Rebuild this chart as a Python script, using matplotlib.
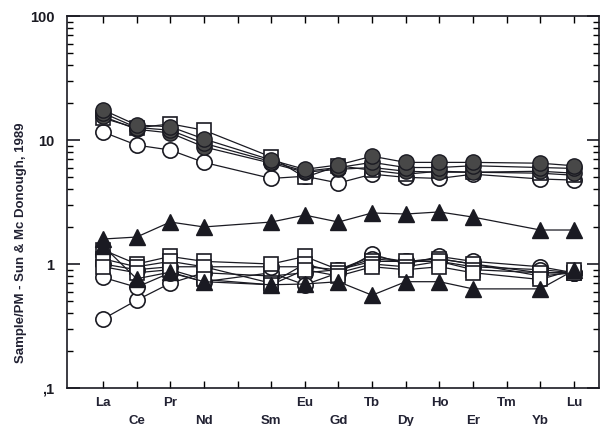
import numpy as np
import matplotlib
matplotlib.use("Agg")
import matplotlib.pyplot as plt
from matplotlib.ticker import FixedLocator, FixedFormatter, LogLocator, NullFormatter

plt.rcParams["font.family"] = ["Liberation Sans", "DejaVu Sans"]
plt.rcParams["font.weight"] = "bold"

# REE order on the axis (Pm and Tm have ticks but the samples skip them)
elements = ["La", "Ce", "Pr", "Nd", "Pm", "Sm", "Eu", "Gd", "Tb", "Dy",
            "Ho", "Er", "Tm", "Yb", "Lu"]
plotted = ["La", "Ce", "Pr", "Nd", "Sm", "Eu", "Gd", "Tb", "Dy", "Ho",
           "Er", "Yb", "Lu"]

# upper group
filled_a = [17.5, 13.2, 12.8, 10.2, 6.9, 5.8, 6.3, 7.4, 6.6, 6.6, 6.6, 6.5, 6.2]
filled_b = [16.5, 12.6, 12.0, 9.4, 6.7, 5.6, 6.0, 6.6, 6.0, 6.0, 6.2, 6.0, 5.9]
filled_c = [15.5, 12.2, 11.4, 8.8, 6.5, 5.5, 5.8, 6.0, 5.6, 5.5, 5.5, 5.6, 5.4]
square_up = [15.0, 12.5, 13.5, 12.0, 7.3, 5.0, 6.2, 5.7, 5.3, 5.6, 5.5, 5.4, 5.2]
circle_up = [11.6, 9.1, 8.3, 6.6, 4.9, 5.1, 4.5, 5.3, 5.0, 4.9, 5.3, 4.85, 4.75]

# middle group
tri_up = [1.59, 1.65, 2.18, 1.99, 2.18, 2.48, 2.18, 2.58, 2.53, 2.63, 2.39, 1.88, 1.88]

# lower group
tri_low = [1.40, 0.76, 0.86, 0.72, 0.68, 0.69, 0.72, 0.56, 0.72, 0.72, 0.63, 0.63, 0.89]
circ_1 = [0.36, 0.51, 0.70, 0.85, 0.80, 0.85, 0.90, 1.15, 1.05, 1.10, 1.00, 0.85, 0.85]
circ_2 = [0.78, 0.65, 0.85, 0.72, 0.85, 0.68, 0.85, 1.20, 1.00, 1.15, 1.05, 0.95, 0.85]
circ_3 = [1.00, 0.90, 0.95, 0.95, 0.95, 0.95, 0.90, 1.10, 1.05, 1.05, 0.95, 0.90, 0.85]
sq_1 = [1.30, 1.00, 1.15, 1.05, 1.00, 1.15, 0.90, 1.05, 1.05, 1.10, 1.00, 0.80, 0.85]
sq_2 = [1.10, 0.95, 1.05, 0.95, 0.70, 1.00, 0.85, 1.00, 0.95, 1.05, 0.90, 0.85, 0.85]
sq_3 = [0.95, 0.85, 0.90, 0.75, 0.68, 0.90, 0.80, 0.95, 0.90, 0.95, 0.85, 0.75, 0.90]

ytick_vals = [0.1, 1, 10, 100]
ytick_text = [",1", "1", "10", "100"]

x = np.array([elements.index(e) for e in plotted])

fig = plt.figure(figsize=(6.01, 4.26), dpi=100)
ax = fig.add_axes([0.1115, 0.0892, 0.886, 0.8732])
ink = "#1a1a22"

line_kw = dict(color=ink, linewidth=0.9)
open_kw = dict(markerfacecolor="white", markeredgecolor=ink,
               markeredgewidth=1.2, **line_kw)
for ys in [circ_1, circ_2, circ_3]:
    ax.plot(x, ys, marker="o", markersize=11, **open_kw)
for ys in [sq_1, sq_2, sq_3]:
    ax.plot(x, ys, marker="s", markersize=10, **open_kw)
ax.plot(x, tri_low, marker="^", markersize=11, markerfacecolor=ink,
        markeredgecolor=ink, **line_kw)
ax.plot(x, tri_up, marker="^", markersize=11, markerfacecolor=ink,
        markeredgecolor=ink, **line_kw)
ax.plot(x, circle_up, marker="o", markersize=11, **open_kw)
ax.plot(x, square_up, marker="s", markersize=10, **open_kw)
for ys in [filled_c, filled_b, filled_a]:
    ax.plot(x, ys, marker="o", markersize=11, markerfacecolor="#484848",
            markeredgecolor=ink, markeredgewidth=1.0, **line_kw)

ax.set_yscale("log")
ax.set_ylim(0.1, 100)
ax.set_xlim(-1.07, 14.76)

ax.yaxis.set_major_locator(FixedLocator(ytick_vals))
ax.yaxis.set_major_formatter(FixedFormatter(ytick_text))
ax.yaxis.set_minor_locator(LogLocator(base=10, subs=np.arange(2, 10)))
ax.yaxis.set_minor_formatter(NullFormatter())
ax.tick_params(axis="y", which="major", direction="in", length=9, width=1.2,
               left=True, right=True, labelsize=10.5, pad=9, colors=ink)
ax.tick_params(axis="y", which="minor", direction="in", length=4.5, width=1.0,
               left=True, right=True)

ax.set_xticks(range(len(elements)))
ax.set_xticklabels([])
ax.tick_params(axis="x", direction="in", length=5, width=1.0, top=True,
               bottom=True)
for i, el in enumerate(elements):
    if el in ("Pm",):
        continue
    off = -11 if i % 2 == 0 else -23.5
    ax.annotate(el, xy=(i, 0), xycoords=("data", "axes fraction"),
                xytext=(0, off), textcoords="offset points",
                ha="center", va="center", fontsize=9.5, fontweight="bold",
                color="#222233")

for s in ax.spines.values():
    s.set_linewidth(1.2)
    s.set_color(ink)

ax.set_ylabel("Sample/PM - Sun & Mc Donough, 1989", fontsize=9.5,
              fontweight="bold", color="#222233")
ax.yaxis.set_label_coords(-0.075, 0.39)

fig.savefig("out.png", dpi=100)
